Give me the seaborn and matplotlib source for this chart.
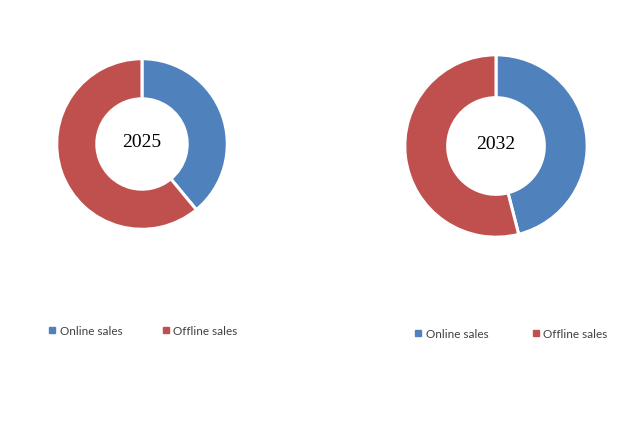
import matplotlib
matplotlib.use("Agg")
import matplotlib.pyplot as plt
from matplotlib.lines import Line2D
import seaborn as sns

# shares of sales channels (percent)
years = ["2025", "2032"]
channels = ["Online sales", "Offline sales"]
share_2025 = [39, 61]
share_2032 = [46, 54]

sns.set_style("white")
colors = sns.color_palette(["#4F81BD", "#C0504D"])

fig = plt.figure(figsize=(6.43, 4.40), dpi=100)

W, H = 643, 440


def px_axes(x0, y0, x1, y1):
    return fig.add_axes([x0 / W, 1 - y1 / H, (x1 - x0) / W, (y1 - y0) / H])


def donut(ax, values, label):
    ax.pie(values, colors=colors, startangle=90, counterclock=False,
           radius=1.0, wedgeprops=dict(width=0.47, edgecolor="white", linewidth=2.2))
    ax.set_xlim(-1.02, 1.02)
    ax.set_ylim(-1.02, 1.02)
    ax.set_aspect("equal")
    ax.axis("off")
    ax.text(0, 0.02, label, ha="center", va="center", fontsize=14,
            family="Liberation Serif", color="black")


ax1 = px_axes(55, 57, 229, 231)
donut(ax1, share_2025, years[0])
ax2 = px_axes(403, 53, 589, 239)
donut(ax2, share_2032, years[1])

handles = [Line2D([0], [0], marker="s", linestyle="none", markersize=4.5,
                  markerfacecolor=c, markeredgecolor=c) for c in colors]

for x, y, gap in [(48, 331, 3.3), (414, 334, 3.65)]:
    fig.legend(handles, channels, loc="center left",
               bbox_to_anchor=(x / W, 1 - y / H), ncol=2, frameon=False,
               borderpad=0, borderaxespad=0,
               handlelength=0.7, handletextpad=0.3, columnspacing=gap,
               prop=dict(family="Lato", size=8.5), labelcolor="#404040")

fig.savefig("out.png", dpi=100)
